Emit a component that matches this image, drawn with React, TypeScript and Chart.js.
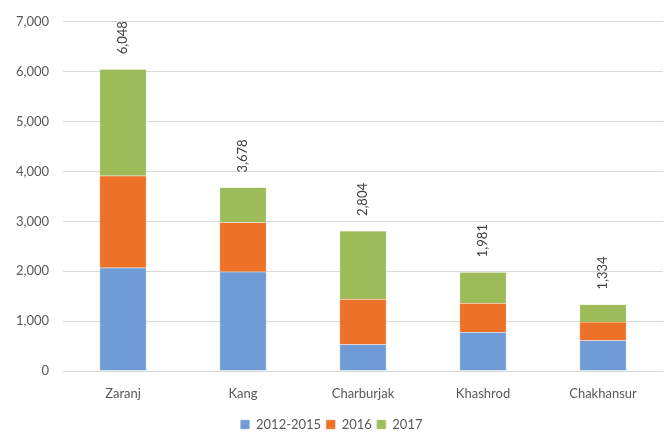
import React, { useEffect, useRef } from "react";
import { Chart, registerables } from "chart.js";

Chart.register(...registerables);

const categories = ["Zaranj", "Kang", "Charburjak", "Khashrod", "Chakhansur"];
const series2012to2015 = [2068, 1990, 530, 778, 612];
const series2016 = [1847, 988, 906, 578, 371];
const series2017 = [2133, 700, 1368, 625, 351];
const seriesNames = ["2012-2015", "2016", "2017"];
const yTicks = [0, 1000, 2000, 3000, 4000, 5000, 6000, 7000];

const FONT = "Lato, 'Open Sans', sans-serif";
const TEXT = "#595959";

const totalsPlugin = {
  id: "totals",
  afterDatasetsDraw(chart: any) {
    const { ctx } = chart;
    const yScale = chart.scales.y;
    const xScale = chart.scales.x;
    ctx.save();
    ctx.font = `13px ${FONT}`;
    ctx.fillStyle = "#404040";
    categories.forEach((_, i) => {
      const total = series2012to2015[i] + series2016[i] + series2017[i];
      const x = xScale.getPixelForValue(i);
      const y = yScale.getPixelForValue(total) - 15;
      ctx.save();
      ctx.translate(x, y);
      ctx.rotate(-Math.PI / 2);
      ctx.textAlign = "left";
      ctx.textBaseline = "middle";
      ctx.fillText(total.toLocaleString("en-US"), 0, 0);
      ctx.restore();
    });
    ctx.restore();
  },
};

export default function App() {
  const ref = useRef<HTMLCanvasElement>(null);
  useEffect(() => {
    document.body.style.margin = "0";
    const chart = new Chart(ref.current!, {
      type: "bar",
      data: {
        labels: categories,
        datasets: [
          { label: seriesNames[0], data: series2012to2015, backgroundColor: "#6f9bd6", borderColor: "#a9c4e8", borderWidth: 0.5 },
          { label: seriesNames[1], data: series2016, backgroundColor: "#ed7127", borderColor: "#f3a26f", borderWidth: 0.5 },
          { label: seriesNames[2], data: series2017, backgroundColor: "#9dbb59", borderColor: "#c4d799", borderWidth: 0.5 },
        ],
      },
      options: {
        animation: false,
        responsive: false,
        maintainAspectRatio: false,
        layout: { padding: { top: 20, right: 8, left: 0, bottom: -6 } },
        datasets: { bar: { categoryPercentage: 1, barPercentage: 0.39 } },
        plugins: {
          legend: {
            position: "bottom",
            labels: {
              boxWidth: 9,
              boxHeight: 9,
              color: TEXT,
              font: { family: FONT, size: 13 },
              padding: 5,
            },
          },
          tooltip: { enabled: false },
        },
        scales: {
          x: {
            stacked: true,
            grid: { display: false },
            border: { display: false },
            ticks: { color: TEXT, font: { family: FONT, size: 13 }, padding: 7 },
            afterFit(scale: any) {
              scale.height = 42;
            },
          },
          y: {
            stacked: true,
            min: 0,
            max: 7000,
            afterBuildTicks(scale: any) {
              scale.ticks = yTicks.map((v) => ({ value: v }));
            },
            grid: { color: "#d9d9d9", drawTicks: false, lineWidth: 1 },
            border: { display: false },
            ticks: {
              color: TEXT,
              font: { family: FONT, size: 13 },
              padding: 14,
              callback: (v: any) => Number(v).toLocaleString("en-US"),
            },
            afterFit(scale: any) {
              scale.width = 63;
            },
          },
        },
      },
      plugins: [totalsPlugin],
    });
    return () => chart.destroy();
  }, []);
  return <canvas ref={ref} width={671} height={435} style={{ display: "block" }} />;
}
